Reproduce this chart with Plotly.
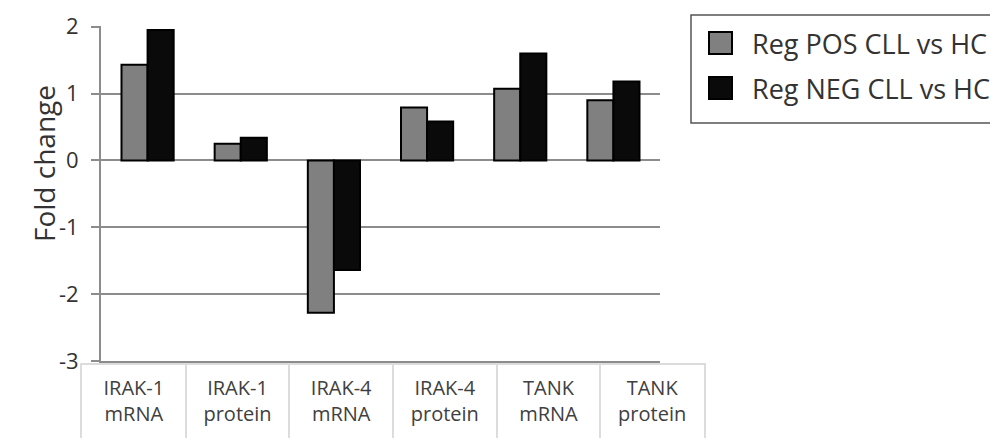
import plotly.graph_objects as go

# Data
categories = ["IRAK-1<br>mRNA", "IRAK-1<br>protein", "IRAK-4<br>mRNA",
              "IRAK-4<br>protein", "TANK<br>mRNA", "TANK<br>protein"]
pos_values = [1.43, 0.25, -2.28, 0.79, 1.07, 0.90]
neg_values = [1.95, 0.34, -1.64, 0.58, 1.60, 1.18]
series_names = ["Reg POS CLL vs HC", "Reg NEG CLL vs HC"]
series_colors = ["#808080", "#0a0a0a"]
y_ticks = [-3, -2, -1, 0, 1, 2]
y_tick_labels = ["-3", "-2", "-1", "0", "1", "2"]

# the page body has an 8px margin, so the figure is drawn 8px in from the corner
OFF = 8
W, H = 998 - OFF, 438 - OFF
FONT = "Open Sans"


def px_x(p):
    return (p - OFF) / W


def px_y(p):
    return 1 - (p - OFF) / H


fig = go.Figure()

idx = list(range(len(categories)))
for name, vals, col in zip(series_names, [pos_values, neg_values], series_colors):
    fig.add_trace(go.Bar(
        x=idx, y=vals, name=name,
        marker=dict(color=col, line=dict(color="#000000", width=2)),
        showlegend=False,
        xaxis="x", yaxis="y",
    ))

# category "table" under the chart
fig.add_trace(go.Scatter(
    x=[i + 0.5 for i in idx], y=[0.5] * len(idx),
    text=categories, mode="text",
    textfont=dict(family=FONT, size=20, color="#404040"),
    showlegend=False, hoverinfo="skip",
    xaxis="x2", yaxis="y2",
))

fig.update_layout(
    width=W, height=H, autosize=False,
    margin=dict(l=0, r=0, t=0, b=0, pad=0, autoexpand=False),
    showlegend=False,
    paper_bgcolor="white", plot_bgcolor="white",
    font=dict(family=FONT, color="#333333"),
    barmode="group", bargap=0.44, bargroupgap=0,
    xaxis=dict(
        domain=[px_x(101), px_x(660)],
        range=[-0.5, 5.5],
        showticklabels=False, showgrid=False, zeroline=False,
        showline=True, linecolor="#8c8c8c", linewidth=2,
        ticks="",
        fixedrange=True,
    ),
    yaxis=dict(
        domain=[px_y(361), px_y(26)],
        range=[-3, 2.01],
        tickvals=y_ticks, ticktext=y_tick_labels,
        tickfont=dict(family=FONT, size=22, color="#333333"),
        ticks="outside", ticklen=8, tickwidth=2, tickcolor="#8c8c8c",
        ticklabelstandoff=8,
        showgrid=True, gridcolor="#8c8c8c", gridwidth=2,
        zeroline=False,
        showline=True, linecolor="#8c8c8c", linewidth=2,
        fixedrange=True,
    ),
    xaxis2=dict(
        domain=[px_x(82), px_x(704)],
        range=[0, 6],
        anchor="y2",
        tickvals=[1, 2, 3, 4, 5],
        showticklabels=False, ticks="",
        showgrid=True, gridcolor="#dcdcdc", gridwidth=1.5,
        zeroline=False,
        showline=True, mirror=True, linecolor="#dcdcdc", linewidth=1.5,
        fixedrange=True,
    ),
    yaxis2=dict(
        domain=[0, px_y(365)],
        range=[0, 1.05],
        anchor="x2",
        showticklabels=False, ticks="", showgrid=False, zeroline=False,
        showline=True, mirror=True, linecolor="#dcdcdc", linewidth=1.5,
        fixedrange=True,
    ),
)

# y axis title
fig.add_annotation(
    text="Fold change", textangle=-90,
    x=px_x(23), y=px_y(164), xref="paper", yref="paper",
    showarrow=False, font=dict(family=FONT, size=28, color="#333333"),
)

# legend drawn by hand so the swatches can be large
fig.add_shape(type="rect", xref="paper", yref="paper",
              x0=px_x(691), x1=px_x(1005), y0=px_y(123), y1=px_y(15),
              line=dict(color="#555555", width=1.5), fillcolor="white")
for k, (name, col) in enumerate(zip(series_names, series_colors)):
    cy = 43 + k * 45
    fig.add_shape(type="rect", xref="paper", yref="paper",
                  x0=px_x(709), x1=px_x(732), y0=px_y(cy + 11), y1=px_y(cy - 11),
                  line=dict(color="#000000", width=2), fillcolor=col)
    fig.add_annotation(text=name, x=px_x(750), y=px_y(cy), xref="paper", yref="paper",
                       xanchor="left", yanchor="middle", showarrow=False,
                       font=dict(family=FONT, size=27, color="#333333"))

fig.write_html("out.html")
